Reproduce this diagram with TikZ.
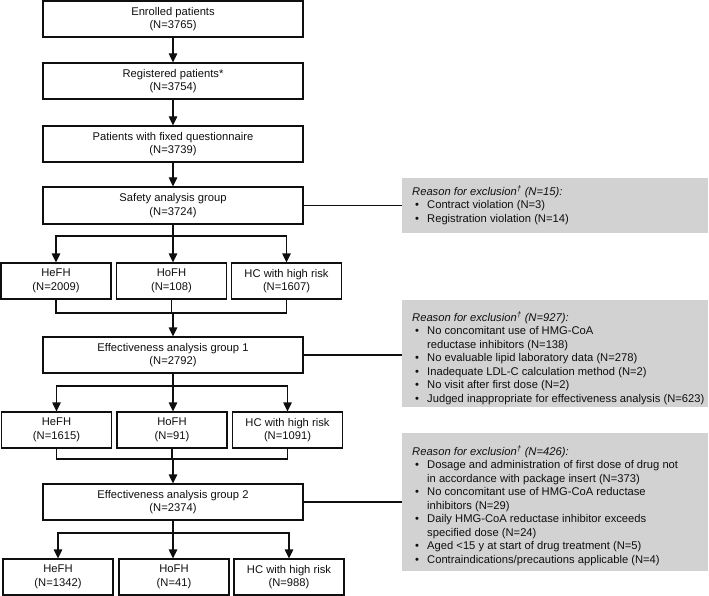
\documentclass[tikz,border=0pt]{standalone}
\usepackage{fontspec}
\setmainfont{Liberation Sans}
\usetikzlibrary{arrows.meta}
\definecolor{exgray}{RGB}{210,210,210}
\definecolor{ink}{RGB}{15,15,15}
\newcommand\bul{\makebox[15pt][l]{\hspace{3pt}•}}
\newcommand\ind{\hspace*{15pt}}
\newcommand\fst{\rule{0pt}{10pt}}
\begin{document}
\begin{tikzpicture}[x=1pt,y=-1pt,
  every node/.style={font=\fontsize{11.2}{13.5}\selectfont, inner sep=0pt, text=ink},
  mainbox/.style={draw=ink, line width=1.2pt, minimum width=260pt, minimum height=36pt, align=center},
  subbox/.style={draw=ink, line width=1.2pt, minimum width=110pt, minimum height=36pt, align=center},
  exbox/.style={fill=exgray, minimum width=306pt},
  extext/.style={anchor=north west, align=left},
  arr/.style={draw=ink, line width=1.2pt, -{Triangle[length=9pt,width=8.5pt]}},
  ln/.style={draw=ink, line width=1.2pt}]
\useasboundingbox (0,0) rectangle (709,596);
% main column
\node[mainbox] (enr) at (173,19) {Enrolled patients\\(N=3765)};
\node[mainbox] (reg) at (173,81) {Registered patients*\\(N=3754)};
\node[mainbox] (fix) at (173,144) {Patients with fixed questionnaire\\(N=3739)};
\node[mainbox, minimum height=37pt] (saf) at (173,205.5) {Safety analysis group\\(N=3724)};
\node[mainbox] (ea1) at (173,355) {Effectiveness analysis group 1\\(N=2792)};
\node[mainbox] (ea2) at (173,502) {Effectiveness analysis group 2\\(N=2374)};
% subgroup rows
\node[subbox] (he1) at (56,281) {HeFH\\(N=2009)};
\node[subbox] (ho1) at (171.5,281) {HoFH\\(N=108)};
\node[subbox] (hc1) at (286.5,281) {HC with high risk\\(N=1607)};
\node[subbox] (he2) at (56.5,430) {HeFH\\(N=1615)};
\node[subbox] (ho2) at (172,430) {HoFH\\(N=91)};
\node[subbox] (hc2) at (287.5,430) {HC with high risk\\(N=1091)};
\node[subbox] (he3) at (58,577) {HeFH\\(N=1342)};
\node[subbox] (ho3) at (174,577) {HoFH\\(N=41)};
\node[subbox] (hc3) at (289,577) {HC with high risk\\(N=988)};
% exclusion boxes
\node[exbox, minimum height=55pt] (ex1) at (555,205.5) {};
\node[exbox, minimum height=107pt] (ex2) at (555,353.5) {};
\node[exbox, minimum height=138pt] (ex3) at (555,502) {};
\node[extext] (t1) at (412,185) {\fst\textit{Reason for exclusion\textsuperscript{†} (N=15):}\\
\bul Contract violation (N=3)\\
\bul Registration violation (N=14)};
\node[extext] (t2) at (412,311) {\fst\textit{Reason for exclusion\textsuperscript{†} (N=927):}\\
\bul No concomitant use of HMG-CoA\\
\ind reductase inhibitors (N=138)\\
\bul No evaluable lipid laboratory data (N=278)\\
\bul Inadequate LDL-C calculation method (N=2)\\
\bul No visit after first dose (N=2)\\
\bul Judged inappropriate for effectiveness analysis (N=623)};
\node[extext] (t3) at (412,445) {\fst\textit{Reason for exclusion\textsuperscript{†} (N=426):}\\
\bul Dosage and administration of first dose of drug not\\
\ind in accordance with package insert (N=373)\\
\bul No concomitant use of HMG-CoA reductase\\
\ind inhibitors (N=29)\\
\bul Daily HMG-CoA reductase inhibitor exceeds\\
\ind specified dose (N=24)\\
\bul Aged <15 y at start of drug treatment (N=5)\\
\bul Contraindications/precautions applicable (N=4)};
% connectors main column
\draw[arr] (enr) -- (reg);
\draw[arr] (reg) -- (fix);
\draw[arr] (fix) -- (saf);
\coordinate (b1) at (173,236);
\coordinate (m1) at (173,313);
\coordinate (b2) at (173,386);
\coordinate (m2) at (173,459);
\coordinate (b3) at (173,533);
\draw[ln] (saf.south) -- (b1);
\draw[arr] (b1) -| (he1.north);
\draw[arr] (b1) -| (hc1.north);
\draw[arr] (b1) -- (b1 |- ho1.north);
\draw[ln] (he1.south) |- (m1) -| (hc1.south);
\draw[ln] (ho1.south) -- (ho1.south |- m1);
\draw[arr] (m1) -- (ea1.north);
\draw[ln] (ea1.south) -- (b2);
\draw[arr] (b2) -| (he2.north);
\draw[arr] (b2) -| (hc2.north);
\draw[arr] (b2) -- (b2 |- ho2.north);
\draw[ln] (he2.south) |- (m2) -| (hc2.south);
\draw[ln] (ho2.south) -- (ho2.south |- m2);
\draw[arr] (m2) -- (ea2.north);
\draw[ln] (ea2.south) -- (b3);
\draw[arr] (b3) -| (he3.north);
\draw[arr] (b3) -| (hc3.north);
\draw[arr] (b3) -- (b3 |- ho3.north);
% connectors to exclusion boxes
\draw[ln] (saf.east) -- (saf.east -| ex1.west);
\draw[ln] (ea1.east) -- (ea1.east -| ex2.west);
\draw[ln] (ea2.east) -- (ea2.east -| ex3.west);
\end{tikzpicture}
\end{document}
